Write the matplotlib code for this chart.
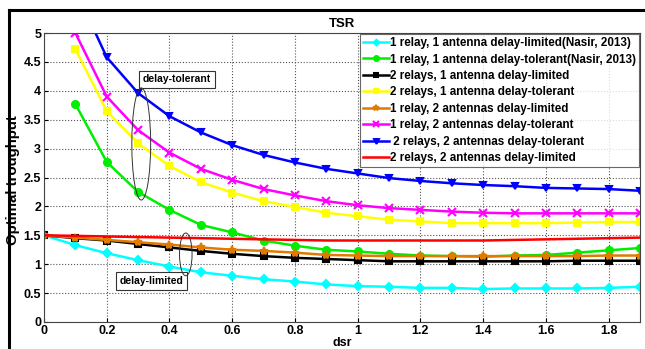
import matplotlib
matplotlib.use("Agg")
import matplotlib.pyplot as plt
from matplotlib.patches import Ellipse
from matplotlib.lines import Line2D

plt.rcParams['font.family'] = ['Liberation Sans', 'DejaVu Sans']
plt.rcParams['font.weight'] = 'bold'

dsr = [0.0, 0.1, 0.2, 0.3, 0.4, 0.5, 0.6, 0.7, 0.8, 0.9,
       1.0, 1.1, 1.2, 1.3, 1.4, 1.5, 1.6, 1.7, 1.8, 1.9]

# single relay, single antenna (Nasir, 2013)
dl_1r_1a = [1.50, 1.33, 1.19, 1.07, 0.96, 0.86, 0.80, 0.74, 0.70, 0.65,
            0.62, 0.61, 0.59, 0.59, 0.57, 0.58, 0.58, 0.58, 0.59, 0.61]
dt_1r_1a = [None, 3.77, 2.77, 2.25, 1.94, 1.68, 1.55, 1.41, 1.32, 1.25,
            1.22, 1.18, 1.15, 1.14, 1.13, 1.15, 1.16, 1.20, 1.24, 1.28]
# two relays, single antenna
dl_2r_1a = [1.50, 1.45, 1.41, 1.35, 1.29, 1.23, 1.18, 1.14, 1.11, 1.09,
            1.07, 1.05, 1.05, 1.05, 1.05, 1.05, 1.05, 1.06, 1.06, 1.06]
dt_2r_1a = [None, 4.72, 3.65, 3.09, 2.70, 2.42, 2.24, 2.09, 1.99, 1.89,
            1.83, 1.77, 1.74, 1.71, 1.71, 1.71, 1.71, 1.72, 1.73, 1.73]
# single relay, two antennas
dl_1r_2a = [1.50, 1.46, 1.42, 1.38, 1.34, 1.29, 1.25, 1.23, 1.20, 1.16,
            1.15, 1.14, 1.14, 1.14, 1.14, 1.14, 1.14, 1.14, 1.15, 1.15]
dt_1r_2a = [None, 5.00, 3.90, 3.32, 2.93, 2.65, 2.46, 2.30, 2.19, 2.09,
            2.02, 1.97, 1.94, 1.91, 1.89, 1.88, 1.88, 1.88, 1.88, 1.88]
# two relays, two antennas
dt_2r_2a = [None, 5.75, 4.58, 3.96, 3.56, 3.28, 3.06, 2.89, 2.76, 2.65,
            2.57, 2.49, 2.44, 2.40, 2.37, 2.35, 2.32, 2.31, 2.30, 2.27]
dl_2r_2a = [1.50, 1.49, 1.48, 1.47, 1.46, 1.45, 1.44, 1.43, 1.42, 1.41,
            1.41, 1.41, 1.41, 1.41, 1.41, 1.42, 1.43, 1.44, 1.45, 1.46]

labels = ["1 relay, 1 antenna delay-limited(Nasir, 2013)",
          "1 relay, 1 antenna delay-tolerant(Nasir, 2013)",
          "2 relays, 1 antenna delay-limited",
          "2 relays, 1 antenna delay-tolerant",
          "1 relay, 2 antennas delay-limited",
          "1 relay, 2 antennas delay-tolerant",
          " 2 relays, 2 antennas delay-tolerant",
          "2 relays, 2 antennas delay-limited"]
series = [dl_1r_1a, dt_1r_1a, dl_2r_1a, dt_2r_1a, dl_1r_2a, dt_1r_2a, dt_2r_2a, dl_2r_2a]
colors = ['#00ffff', '#00ee00', 'black', '#ffff00', '#e07b00', '#ff00ff', '#0000ff', '#ff0000']
markers = ['D', 'o', 's', 's', '*', 'x', 'v', None]
msizes = [4, 5, 4, 5, 6, 6, 5, 0]

fig = plt.figure(figsize=(6.45, 3.49), dpi=100)
ax = fig.add_axes([44/645, 1 - 322/349, 596/645, 289/349])

for ys, lab, c, m, ms in zip(series, labels, colors, markers, msizes):
    pts = [(x, y) for x, y in zip(dsr, ys) if y is not None]
    xs = [p[0] for p in pts]
    vs = [p[1] for p in pts]
    ax.plot(xs, vs, color=c, lw=1.8, marker=m, markersize=ms,
            markeredgewidth=1.5, label=lab)

ax.set_xlim(0, 1.9)
ax.set_ylim(0, 5)
ax.set_xticks([0, 0.2, 0.4, 0.6, 0.8, 1, 1.2, 1.4, 1.6, 1.8])
ax.set_xticklabels(['0', '0.2', '0.4', '0.6', '0.8', '1', '1.2', '1.4', '1.6', '1.8'])
ax.set_yticks([0, 0.5, 1, 1.5, 2, 2.5, 3, 3.5, 4, 4.5, 5])
ax.set_yticklabels(['0', '0.5', '1', '1.5', '2', '2.5', '3', '3.5', '4', '4.5', '5'])
ax.tick_params(labelsize=9, length=3, direction='in', pad=2)
ax.grid(True, linestyle=':', color='#555555', lw=0.8)
for s in ax.spines.values():
    s.set_color('#444444')
    s.set_linewidth(0.8)

ax.set_title("TSR", fontsize=9.5, fontweight='bold', pad=4)
ax.set_xlabel("dsr", fontsize=9, fontweight='bold', labelpad=0)
ax.set_ylabel("Optimal troughput", fontsize=10.8, fontweight='bold')
ax.yaxis.set_label_coords(-0.040, 0.49)

# annotation boxes with ellipses around the curve groups
box = dict(boxstyle='square,pad=0.35', fc='white', ec='#333333', lw=0.8)
ax.text(0.315, 4.2, "delay-tolerant", fontsize=7.5, fontweight='bold',
        va='center', ha='left', bbox=box, zorder=5)
ax.add_patch(Ellipse((0.31, 3.08), 0.06, 1.94, fill=False, ec='#333333', lw=0.7, zorder=5))
ax.text(0.24, 0.71, "delay-limited", fontsize=7.5, fontweight='bold',
        va='center', ha='left', bbox=box, zorder=5)
ax.add_patch(Ellipse((0.452, 1.17), 0.04, 0.74, fill=False, ec='#333333', lw=0.7, zorder=5))

leg = ax.legend(loc='upper right', fontsize=8.4, frameon=True, fancybox=False,
                borderpad=0.25, labelspacing=0.38, handlelength=2.2,
                handletextpad=0.1, borderaxespad=0.1, markerscale=0.7)
leg.get_frame().set_edgecolor('#444444')
leg.get_frame().set_linewidth(0.8)
leg.set_zorder(10)

# outer frame lines on the left and top
fig.add_artist(Line2D([9/645, 9/645], [0, 1 - 10/349], color='black', lw=2.2))
fig.add_artist(Line2D([9/645, 1], [1 - 10/349, 1 - 10/349], color='black', lw=2.2))

fig.savefig("out.png", dpi=100)
